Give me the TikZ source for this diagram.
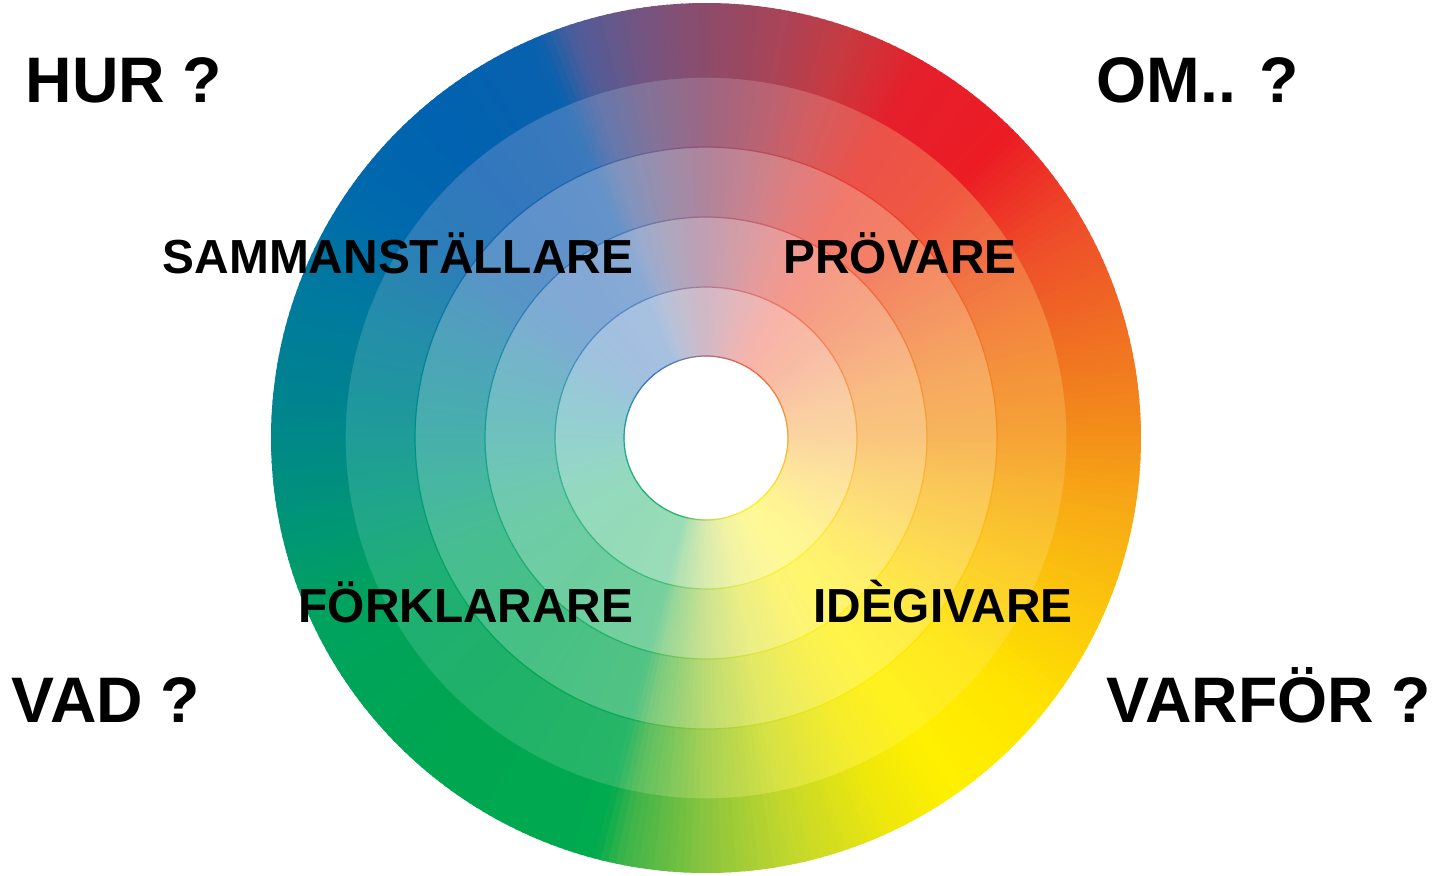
\documentclass[tikz,border=0pt]{standalone}
\usepackage{fontspec}
\setmainfont{Liberation Sans}
\usepackage{tikz}

% hue stops, named by angle: o = outer ring, i = hue of the inner rings
\definecolor{o000}{HTML}{F39019} \definecolor{i000}{HTML}{F59A1C}
\definecolor{o015}{HTML}{F06E23} \definecolor{i015}{HTML}{F38A22}
\definecolor{o030}{HTML}{EE4D2A} \definecolor{i030}{HTML}{F07028}
\definecolor{o045}{HTML}{EC1C24} \definecolor{i045}{HTML}{EF5A28}
\definecolor{o060}{HTML}{E51F2B} \definecolor{i060}{HTML}{EC4C34}
\definecolor{o070}{HTML}{C9393F} \definecolor{i070}{HTML}{D84E4C}
\definecolor{o080}{HTML}{A84458} \definecolor{i080}{HTML}{B45464}
\definecolor{o090}{HTML}{8D4B6B} \definecolor{i090}{HTML}{925677}
\definecolor{o100}{HTML}{715683} \definecolor{i100}{HTML}{72658F}
\definecolor{o108}{HTML}{4E5C9A} \definecolor{i108}{HTML}{506CA8}
\definecolor{o113}{HTML}{0A61AE} \definecolor{i113}{HTML}{2E6AB6}
\definecolor{o130}{HTML}{0062B0} \definecolor{i130}{HTML}{2566B6}
\definecolor{o145}{HTML}{0069AD} \definecolor{i145}{HTML}{1A6EB0}
\definecolor{o160}{HTML}{007A9E} \definecolor{i160}{HTML}{0A809F}
\definecolor{o175}{HTML}{00838F} \definecolor{i175}{HTML}{008E90}
\definecolor{o190}{HTML}{00937A} \definecolor{i190}{HTML}{009C7E}
\definecolor{o205}{HTML}{00A35E} \definecolor{i205}{HTML}{00A566}
\definecolor{o230}{HTML}{00A650} \definecolor{i230}{HTML}{00A856}
\definecolor{o255}{HTML}{00AA4F} \definecolor{i255}{HTML}{10AC55}
\definecolor{o259}{HTML}{3EB449} \definecolor{i259}{HTML}{4CB84C}
\definecolor{o270}{HTML}{8BC53F} \definecolor{i270}{HTML}{A6CE3C}
\definecolor{o282}{HTML}{C3D82C} \definecolor{i282}{HTML}{DCE228}
\definecolor{o295}{HTML}{EEE70C} \definecolor{i295}{HTML}{F8EC10}
\definecolor{o305}{HTML}{FFF000} \definecolor{i305}{HTML}{FFF000}
\definecolor{o320}{HTML}{FFE500} \definecolor{i320}{HTML}{FFE200}
\definecolor{o335}{HTML}{FCC80C} \definecolor{i335}{HTML}{FCCA10}
\definecolor{o350}{HTML}{F7AA15} \definecolor{i350}{HTML}{F8B018}

\begin{document}
\begin{tikzpicture}[x=0.01cm, y=0.01cm,
  question/.style={font=\bfseries\fontsize{18.3}{22}\selectfont,
                   inner sep=0pt, anchor=base},
  role/.style={font=\bfseries\fontsize{13.6}{16}\selectfont,
               inner sep=0pt, anchor=base}]
\useasboundingbox (-706,-437) rectangle (737,438);

% colour wheel: five rings, lighter towards the centre
\foreach \a/\na/\b/\nb in {0/000/15/015, 15/015/30/030, 30/030/45/045,
    45/045/60/060, 60/060/70/070, 70/070/80/080, 80/080/90/090,
    90/090/100/100, 100/100/108/108, 108/108/113/113,
    113/113/130/130, 130/130/145/145, 145/145/160/160,
    160/160/175/175, 175/175/190/190, 190/190/205/205,
    205/205/230/230, 230/230/255/255, 255/255/259/259,
    259/259/270/270, 270/270/282/282, 282/282/295/295,
    295/295/305/305, 305/305/320/320, 320/320/335/335,
    335/335/350/350, 350/350/360/000} {
  \pgfmathtruncatemacro{\n}{max(1,round(\b-\a))}
  \foreach \k in {1,...,\n} {
    \pgfmathsetmacro{\t}{100*(\k-0.5)/\n}
    \pgfmathsetmacro{\angA}{\a+(\b-\a)*(\k-1)/\n}
    \pgfmathsetmacro{\angB}{\a+(\b-\a)*\k/\n+0.3}
    \colorlet{outhue}{o\nb!\t!o\na}
    \colorlet{inhue}{i\nb!\t!i\na}
    \foreach \rin/\rout/\f/\s/\l in {82/151/0/42/90, 151/221/0/57/80,
        221/291/15/72/90, 291/361/40/88/100, 361/435/100/100/100} {
      \colorlet{ringhue}{outhue!\f!inhue}
      \fill[ringhue!\s!white] (\angA:\rin)
        arc[start angle=\angA, end angle=\angB, radius=\rin]
        -- (\angB:\rout)
        arc[start angle=\angB, end angle=\angA, radius=\rout] -- cycle;
      \draw[ringhue!\l!white, line width=0.35pt] (\angA:\rin)
        arc[start angle=\angA, end angle=\angB, radius=\rin];
    }
  }
}

\node[question] (hur) at (-582,336) {HUR ?};
\node[question] (om) at (492,336) {OM.. ?};
\node[question] (vad) at (-600,-284) {VAD ?};
\node[question] (varfor) at (563,-284) {VARFÖR ?};

\node[role] (samman) at (-308,165) {SAMMANSTÄLLARE};
\node[role] (provare) at (194,165) {PRÖVARE};
\node[role] (forklarare) at (-240,-184) {FÖRKLARARE};
\node[role] (idegivare) at (237,-184) {IDÈGIVARE};
\end{tikzpicture}
\end{document}
